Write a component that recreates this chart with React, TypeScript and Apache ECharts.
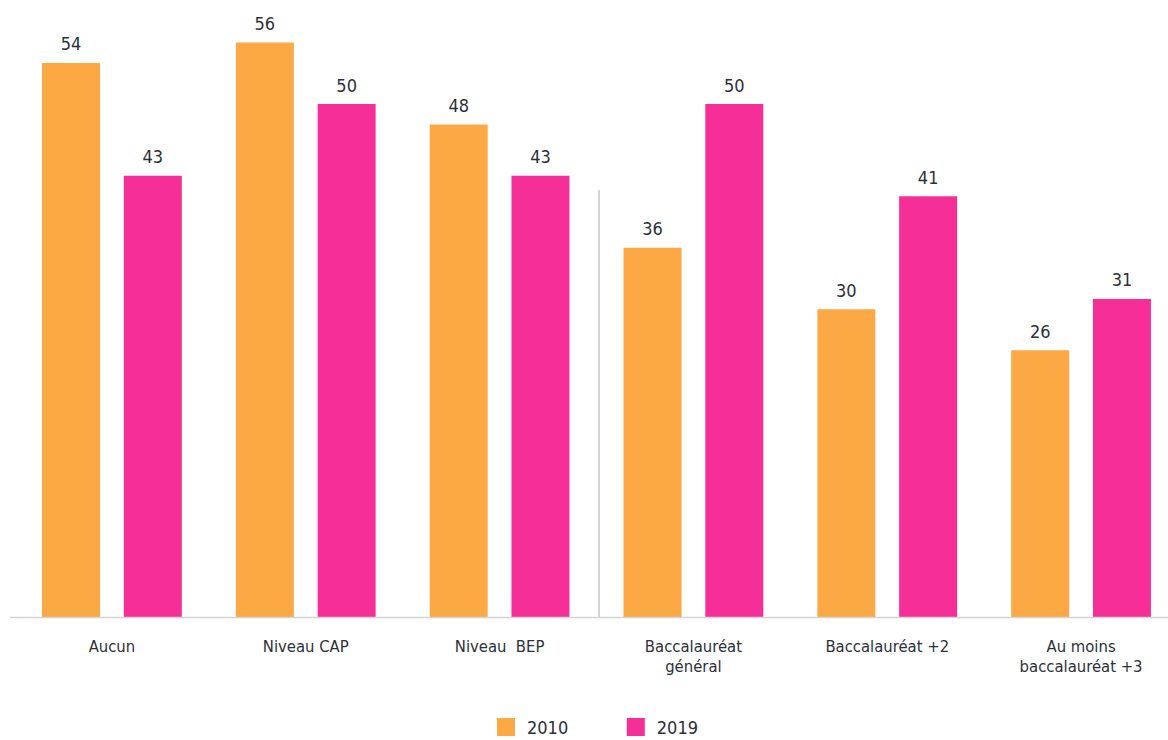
import React, { useEffect, useRef } from "react";
import * as echarts from "echarts";

const categories = [
  "Aucun",
  "Niveau CAP",
  "Niveau  BEP",
  "Baccalauréat\ngénéral",
  "Baccalauréat +2",
  "Au moins\nbaccalauréat +3",
];
const values2010 = [54, 56, 48, 36, 30, 26];
const values2019 = [43, 50, 43, 50, 41, 31];
const seriesNames = ["2010", "2019"];

const ORANGE = "#FBA845";
const PINK = "#F62F98";
const TEXT = "#2c3038";
const FONT = "'DejaVu Sans', sans-serif";

export default function App() {
  const ref = useRef<HTMLDivElement>(null);
  useEffect(() => {
    if (!ref.current) return;
    const chart = echarts.init(ref.current, null, { renderer: "svg" });
    const labelCfg = {
      show: true,
      position: "top" as const,
      distance: 10,
      color: TEXT,
      fontFamily: FONT,
      fontSize: 18,
    };
    chart.setOption({
      animation: false,
      backgroundColor: "#ffffff",
      grid: { left: 15, top: 1.4, width: 1163, bottom: 123, containLabel: false },
      legend: {
        top: 713,
        left: 492,
        itemWidth: 18,
        itemHeight: 18,
        itemGap: 54,
        icon: "rect",
        textStyle: { color: TEXT, fontFamily: FONT, fontSize: 18, padding: [0, 0, 0, 7] },
        data: seriesNames,
      },
      xAxis: {
        type: "category",
        data: categories,
        axisLine: { show: false },
        axisTick: { show: false },
        axisLabel: {
          interval: 0,
          margin: 19,
          color: TEXT,
          fontFamily: FONT,
          fontSize: 16.5,
          lineHeight: 20,
        },
      },
      yAxis: {
        type: "value",
        min: 0,
        max: 60,
        show: false,
        splitLine: { show: false },
      },
      graphic: [
        {
          type: "line",
          shape: { x1: 10, y1: 617.5, x2: 1168, y2: 617.5 },
          style: { stroke: "#d4d4d4", lineWidth: 1.5 },
          z: 10,
        },
        {
          type: "line",
          shape: { x1: 599, y1: 190, x2: 599, y2: 617 },
          style: { stroke: "#b8b8b8", lineWidth: 1.2 },
        },
      ],
      series: [
        {
          name: seriesNames[0],
          type: "bar",
          data: values2010,
          barWidth: 58,
          barGap: "41%",
          itemStyle: { color: ORANGE },
          label: labelCfg,
        },
        {
          name: seriesNames[1],
          type: "bar",
          data: values2019,
          barWidth: 58,
          itemStyle: { color: PINK },
          label: labelCfg,
        },
      ],
    });
    return () => chart.dispose();
  }, []);
  return (
    <div
      id="chartwrap"
      style={{
        position: "absolute",
        left: 0,
        top: 0,
        width: 1168,
        height: 740,
        overflow: "hidden",
      }}
    >
      <style>{"#chartwrap text { font-stretch: condensed; }"}</style>
      <div ref={ref} style={{ width: 1190, height: 740 }} />
    </div>
  );
}
